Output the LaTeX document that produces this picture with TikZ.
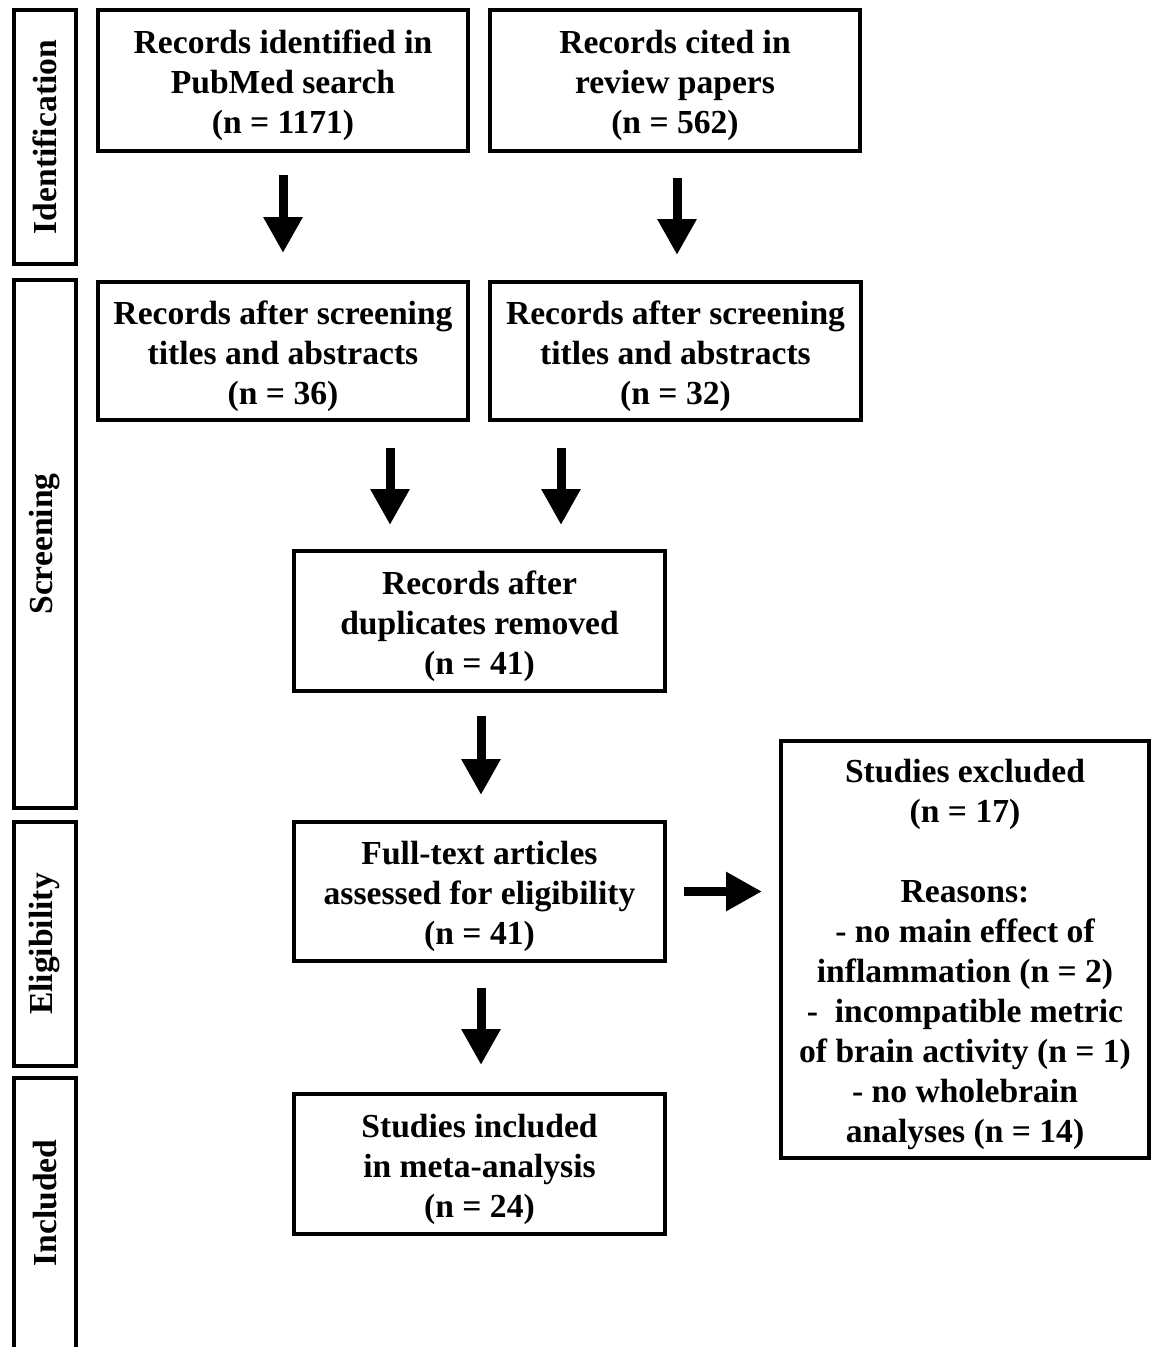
\documentclass[tikz,border=0pt]{standalone}
\usepackage{fontspec}
\setmainfont{Liberation Serif}
\usetikzlibrary{arrows.meta,calc}
\begin{document}
\begin{tikzpicture}[x=1pt,y=-1pt,
  box/.style={draw,line width=4pt,rectangle,inner sep=0pt},
  txt/.style={align=center,inner sep=0pt,font=\fontsize{33.6}{40}\selectfont\bfseries},
  side/.style={draw,line width=4pt,rectangle,inner sep=0pt,minimum width=62pt},
  sidetxt/.style={rotate=90,inner sep=0pt,font=\fontsize{33.6}{40}\selectfont\bfseries},
  arr/.style={line width=9pt,-{Triangle[width=37pt,length=36pt]}}]
\useasboundingbox (0,0) rectangle (1152,1347);
\clip (0,0) rectangle (1152,1347);
% side bars
\node[side,minimum height=254pt] (s1) at (45,137) {};
\node[sidetxt] (s1t) at (s1) {Identification};
\node[side,minimum height=528pt] (s2) at (45,544) {};
\node[sidetxt] (s2t) at (s2) {Screening};
\node[side,minimum height=300pt] (s4) at (45,1228) {};
\node[side,minimum height=244pt] (s3) at (45,944) {};
\node[sidetxt] (s3t) at (s3) {Eligibility};
\node[sidetxt] (s4t) at (45,1203) {Included};
% boxes
\node[box,minimum width=370pt,minimum height=141pt] (A) at (283,80.5) {};
\node[txt] (At) at ([yshift=-5pt]A) {Records identified in\\PubMed search\\(n = 1171)};
\node[box,minimum width=370pt,minimum height=141pt] (B) at (675,80.5) {};
\node[txt] (Bt) at ([yshift=-5pt]B) {Records cited in\\review papers\\(n = 562)};
\node[box,minimum width=370pt,minimum height=138pt] (C) at (283,351) {};
\node[txt] (Ct) at ([yshift=-5pt]C) {Records after screening\\titles and abstracts\\(n = 36)};
\node[box,minimum width=371pt,minimum height=138pt] (D) at (675.5,351) {};
\node[txt] (Dt) at ([yshift=-5pt]D) {Records after screening\\titles and abstracts\\(n = 32)};
\node[box,minimum width=371pt,minimum height=140pt] (E) at (479.5,621) {};
\node[txt] (Et) at ([yshift=-5pt]E) {Records after\\duplicates removed\\(n = 41)};
\node[box,minimum width=371pt,minimum height=139pt] (F) at (479.5,891.5) {};
\node[txt] (Ft) at ([yshift=-5pt]F) {Full-text articles\\assessed for eligibility\\(n = 41)};
\node[box,minimum width=371pt,minimum height=140pt] (H) at (479.5,1164) {};
\node[txt] (Ht) at ([yshift=-5pt]H) {Studies included\\in meta-analysis\\(n = 24)};
\node[box,minimum width=368pt,minimum height=417pt] (G) at (965,949.5) {};
\node[txt] (Gt) at ([yshift=-5pt]G) {Studies excluded\\(n = 17)\\[40pt]Reasons:\\- no main effect of\\inflammation (n = 2)\\-\ \ incompatible metric\\of brain activity (n = 1)\\- no wholebrain\\analyses (n = 14)};
% arrows
\draw[arr,shorten <=22pt,shorten >=27pt] (A.south) -- (A.south |- C.north);
\draw[arr,shorten <=25pt,shorten >=25pt] ([xshift=2pt]B.south) -- ([xshift=2pt]B.south |- D.north);
\draw[arr,shorten <=26pt,shorten >=24pt] ([xshift=107pt]C.south) -- ([xshift=107pt]C.south |- E.north);
\draw[arr,shorten <=26pt,shorten >=24pt] ([xshift=-114.5pt]D.south) -- ([xshift=-114.5pt]D.south |- E.north);
\draw[arr,shorten <=23pt,shorten >=25pt] ([xshift=1.5pt]E.south) -- ([xshift=1.5pt]F.north);
\draw[arr,shorten <=17pt,shorten >=17pt] (F.east) -- (F.east -| G.west);
\draw[arr,shorten <=25pt,shorten >=27pt] ([xshift=1.5pt]F.south) -- ([xshift=1.5pt]H.north);
\end{tikzpicture}
\end{document}
